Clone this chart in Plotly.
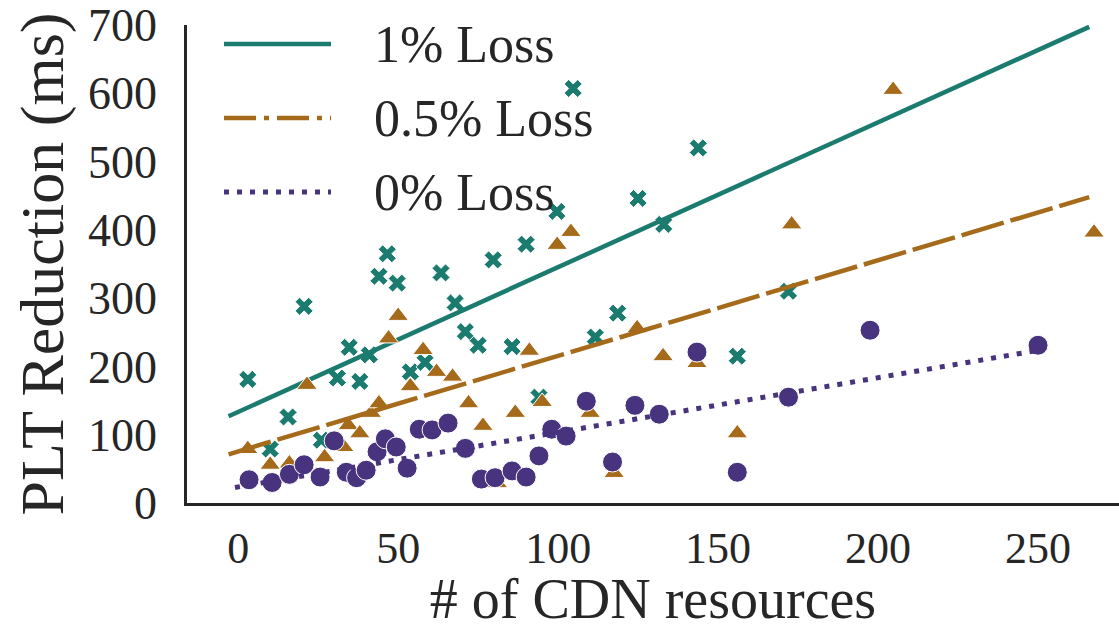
import plotly.graph_objects as go

# ---- data ----
loss1_x = [3, 10, 15.6, 20.6, 26, 31, 34.7, 38, 41, 44, 46.6, 49.7, 53.8, 58.4, 63.4, 67.8, 71, 75,
           79.7, 85.6, 90, 94, 99.6, 104.7, 111.6, 118.6, 125, 133, 143.8, 156, 172]
loss1_y = [181, 79, 126, 288, 92, 183, 228, 178, 217, 332, 365, 322, 192, 206, 337, 293, 251, 231,
           356, 229, 379, 155, 427, 607, 243, 278, 446, 408, 520, 215, 310]

loss05_x = [3, 10, 16, 21.5, 27, 33, 34.4, 38, 41.6, 44, 47, 50, 53.8, 57.8, 62, 67, 72, 76.5, 81,
            86.6, 91, 95, 99.7, 104, 110, 117.5, 124.7, 132.8, 143.4, 156, 173, 204.7, 267.5]
loss05_y = [79, 56, 58, 173, 67, 82, 114, 102, 132, 146, 241, 274, 171, 224, 192, 185, 146, 113, 29,
            132, 223, 148, 378, 397, 132, 44, 256, 215, 205, 102, 408, 605, 396]

loss0_x = [3.4, 10.6, 16, 20.6, 25.6, 30, 33.8, 37, 40, 43.4, 46, 49.4, 52.8, 56.6, 60.6, 65.6, 71,
           76, 80.3, 85.6, 90, 94, 98, 102.5, 108.8, 117, 124, 131.6, 143.4, 156, 172, 197.5, 250]
loss0_y = [34, 30, 42, 56, 38, 91, 45, 37, 48, 75, 94, 82, 51, 108, 107, 117, 80,
           35, 37, 47, 38, 69, 108, 98, 149, 60, 143, 130, 221, 45, 155, 253, 231]

series_names = ["1% Loss", "0.5% Loss", "0% Loss"]
trend_intercept = [133.4, 75.5, 23.5]
trend_slope = [2.12, 1.40, 0.80]
trend_x_start = [-3, -3, -1]
trend_x_end = [266, 266, 250]

x_ticks = [0, 50, 100, 150, 200, 250]
y_ticks = [0, 100, 200, 300, 400, 500, 600, 700]

# ---- styles ----
colors = ["#1b7b6f", "#a66a1b", "#48337f"]
symbols = ["x", "triangle-up", "circle"]
msizes = [16, 18, 20]
dashes = ["solid", "44px,7px", "5px,8px"]
widths = [4.5, 4.5, 5]
legend_dashes = ["solid", "32px,8px,5px,8px", "5px,8px"]
FONT = "Liberation Serif, Times New Roman, serif"
TXT = "#262626"

xs_all = [loss1_x, loss05_x, loss0_x]
ys_all = [loss1_y, loss05_y, loss0_y]

fig = go.Figure()
for i in range(3):
    fig.add_trace(go.Scatter(
        x=xs_all[i], y=ys_all[i], mode="markers", showlegend=False,
        marker=dict(symbol=symbols[i], size=msizes[i], color=colors[i],
                    line=dict(color="white", width=1))))
    x0, x1 = trend_x_start[i], trend_x_end[i]
    fig.add_trace(go.Scatter(
        x=[x0, x1],
        y=[trend_intercept[i] + trend_slope[i] * x0, trend_intercept[i] + trend_slope[i] * x1],
        mode="lines", showlegend=False,
        line=dict(color=colors[i], width=widths[i], dash=dashes[i])))

# plot area in pixels: x 187..1119, y 25..503
L, R, T, B = 187, 1119, 25, 503
def px(x):
    return (x - L) / (R - L)
def py(y):
    return (B - y) / (B - T)

legend_rows = [44, 118, 192]
for i in range(3):
    fig.add_shape(type="line", xref="paper", yref="paper",
                  x0=px(224), x1=px(331), y0=py(legend_rows[i]), y1=py(legend_rows[i]),
                  line=dict(color=colors[i], width=widths[i], dash=legend_dashes[i]))
    fig.add_annotation(xref="paper", yref="paper", x=px(372), y=py(legend_rows[i]),
                       text=series_names[i], showarrow=False, xanchor="left", yanchor="middle",
                       font=dict(family=FONT, size=52, color=TXT))

fig.update_layout(
    width=1119, height=630,
    margin=dict(l=L, r=1119 - R, t=T, b=630 - B, pad=0),
    plot_bgcolor="white", paper_bgcolor="white",
    font=dict(family=FONT, color=TXT),
)
fig.update_xaxes(
    range=[-16, 275.3], tickvals=x_ticks, ticktext=[str(v) for v in x_ticks],
    showgrid=False, zeroline=False, showline=True, linecolor=TXT, linewidth=2.5,
    ticks="", ticklabelstandoff=4, tickfont=dict(family=FONT, size=44, color=TXT),
    title=dict(text="# of CDN resources", font=dict(family=FONT, size=56, color=TXT), standoff=8),
)
fig.update_yaxes(
    range=[0, 700], tickvals=y_ticks, ticktext=[str(v) for v in y_ticks],
    showgrid=False, zeroline=False, showline=True, linecolor=TXT, linewidth=2.5,
    ticks="", ticklabelstandoff=18, tickfont=dict(family=FONT, size=46, color=TXT),
    title=dict(text="PLT Reduction (ms)", font=dict(family=FONT, size=62, color=TXT), standoff=5),
)

fig.write_html("out.html")
